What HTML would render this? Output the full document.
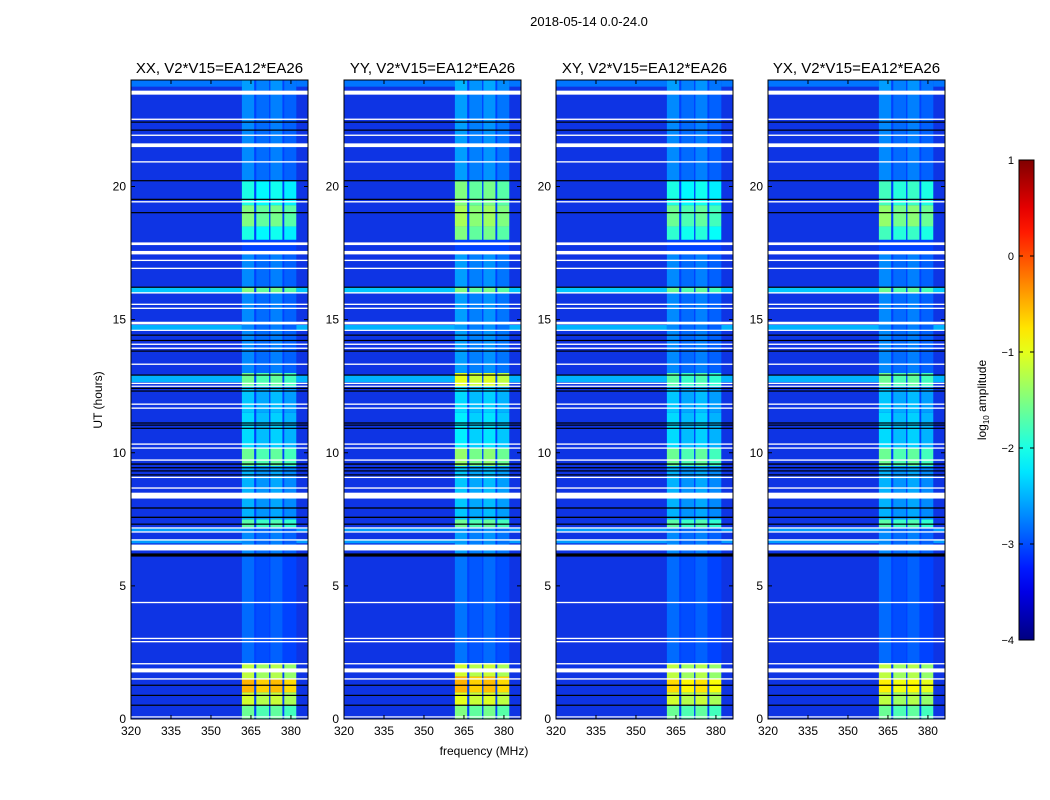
<!DOCTYPE html>
<html><head><meta charset="utf-8"><style>
body{margin:0;background:#fff;}
svg{display:block;font-family:"Liberation Sans",sans-serif;}
</style></head><body>
<svg id="chart" width="1050" height="800"></svg>
<script>
// ---- data ----
const panelTitles = ["XX, V2*V15=EA12*EA26","YY, V2*V15=EA12*EA26","XY, V2*V15=EA12*EA26","YX, V2*V15=EA12*EA26"];
const panelLeft = [131,344,556,768];
const yTicks = [0,5,10,15,20];
const xTicks = [320,335,350,365,380];
const cbTicks = [1,0,-1,-2,-3,-4];
const bands = [[361.6,366.2],[367,371.8],[372.3,376.8],[377.5,382]];
const bandOffset = [0,-0.15,-0.05,-0.2];
const gapLevel = -3.05;
const rfiXX = [[0,0.5,-1.6],[0.5,1.0,-1.1],[1.0,1.5,-0.5],[1.5,2.1,-1.2],[2.1,6.2,-2.85],[6.2,7.2,-2.7],[7.2,7.5,-1.7],[7.5,9.5,-2.5],[9.5,10.2,-1.6],[10.2,11.5,-2.3],[11.5,12.5,-2.4],[12.5,13.0,-1.6],[13,16,-2.7],[16,16.2,-1.5],[16.2,17.5,-2.7],[18,18.5,-2.0],[18.5,19.3,-1.5],[19.3,20.2,-2.0],[20.2,23.5,-2.7],[23.6,24,-2.6]];
const rfiYY = [[0,0.5,-1.5],[0.5,1.0,-1.0],[1.0,1.6,-0.5],[1.6,2.1,-1.1],[2.1,6.2,-2.8],[6.2,7.2,-2.6],[7.2,7.5,-1.6],[7.5,9.5,-2.4],[9.5,10.2,-1.4],[10.2,11.5,-2.2],[11.5,12.5,-2.3],[12.5,13.0,-1.0],[13,16,-2.6],[16,16.2,-1.5],[16.2,17.5,-2.6],[18,18.5,-1.5],[18.5,19.3,-1.3],[19.3,20.2,-1.5],[20.2,23.5,-2.6],[23.6,24,-2.5]];
const rfiXY = [[0,0.5,-1.6],[0.5,1.0,-1.1],[1.0,1.5,-0.7],[1.5,2.1,-1.2],[2.1,6.2,-2.85],[6.2,7.2,-2.7],[7.2,7.5,-1.7],[7.5,9.5,-2.5],[9.5,10.2,-1.6],[10.2,11.5,-2.3],[11.5,12.5,-2.4],[12.5,13.0,-1.7],[13,16,-2.7],[16,16.2,-1.6],[16.2,17.5,-2.7],[18,18.5,-1.9],[18.5,19.3,-1.6],[19.3,20.2,-2.0],[20.2,23.5,-2.7],[23.6,24,-2.6]];
const rfiYX = [[0,0.5,-1.6],[0.5,1.0,-1.2],[1.0,1.5,-0.8],[1.5,2.1,-1.2],[2.1,6.2,-2.85],[6.2,7.2,-2.7],[7.2,7.5,-1.7],[7.5,9.5,-2.5],[9.5,10.2,-1.6],[10.2,11.5,-2.3],[11.5,12.5,-2.4],[12.5,13.0,-1.6],[13,16,-2.7],[16,16.2,-1.6],[16.2,17.5,-2.7],[18,18.5,-1.8],[18.5,19.3,-1.4],[19.3,20.2,-1.8],[20.2,23.5,-2.7],[23.6,24,-2.6]];
const rfiPanels = [rfiXX,rfiYY,rfiXY,rfiYX];
const brightRows = [[16.0,16.2,-2.4],[12.65,12.9,-2.5],[14.6,14.8,-2.5],[6.6,6.75,-2.6],[7.05,7.15,-2.6],[23.75,24,-2.8]];
const whiteLines = [[23.45,23.6],[22.5,22.55],[21.9,21.95],[21.48,21.62],[20.9,20.95],[19.4,19.45],[17.8,17.9],[17.45,17.58],[17.2,17.25],[16.9,16.95],[15.98,16.03],[15.55,15.6],[15.4,15.45],[14.82,14.92],[14.58,14.62],[14.05,14.1],[13.9,13.95],[13.3,13.35],[12.58,12.63],[12.48,12.52],[11.8,11.85],[11.65,11.7],[10.3,10.35],[10.15,10.2],[9.7,9.75],[9.05,9.1],[8.65,8.7],[8.28,8.5],[7.15,7.2],[7.0,7.05],[6.7,6.75],[6.33,6.55],[4.35,4.4],[3.0,3.05],[2.88,2.93],[2.05,2.1],[1.75,1.9],[1.48,1.53],[0.06,0.1]];
const blackLines = [[22.4,22.44],[22.1,22.14],[20.2,20.24],[19.5,19.54],[19.0,19.04],[16.2,16.24],[14.4,14.44],[14.2,14.24],[13.8,13.84],[12.9,12.94],[12.4,12.44],[12.3,12.34],[11.1,11.14],[11.02,11.06],[10.9,10.94],[9.55,9.6],[9.42,9.46],[9.3,9.34],[9.15,9.19],[7.9,7.95],[7.55,7.6],[7.3,7.34],[6.1,6.22],[1.25,1.29],[0.87,0.91],[0.5,0.54]];
// ---- scales ----
const plotTop=80, plotBottom=719, pw=177, xmin=320, xmax=386.4, ymin=0, ymax=24;
const sy = h => plotBottom - (h-ymin)/(ymax-ymin)*(plotBottom-plotTop);
const sx = (p,f) => panelLeft[p] + (f-xmin)/(xmax-xmin)*pw;
function jet(v){const x=Math.max(0,Math.min(1,(v+4)/5));const c=t=>Math.round(255*Math.max(0,Math.min(1,1.5-Math.abs(t))));return `rgb(${c(4*x-3)},${c(4*x-2)},${c(4*x-1)})`;}
const NS="http://www.w3.org/2000/svg";
const svgRoot=document.getElementById('chart');
function el(tag,attrs,parent){const e=document.createElementNS(NS,tag);for(const k in attrs)e.setAttribute(k,attrs[k]);(parent||svgRoot).appendChild(e);return e;}
function txt(s,attrs,parent){const e=el('text',attrs,parent);e.textContent=s;return e;}

const figTitle=txt("2018-05-14 0.0-24.0",{x:589,y:26,'text-anchor':'middle','font-size':13});



for(let p=0;p<4;p++){
  const g=el('g',{});
  
  
  const L=panelLeft[p];
  const bg=el('rect',{x:L,y:plotTop,width:pw,height:plotBottom-plotTop,fill:'rgb(14,52,228)'},g);
  
  
  brightRows.forEach(r=>{const e=el('rect',{x:L,y:sy(r[1]),width:pw,height:sy(r[0])-sy(r[1]),fill:jet(r[2])},g);
    
    });
  const gx0=sx(p,bands[0][0]), gx1=sx(p,bands[3][1]);
  const gr=el('rect',{x:gx0,y:plotTop,width:gx1-gx0,height:plotBottom-plotTop,fill:jet(gapLevel)},g);
  
  
  rfiPanels[p].forEach(s=>{
    bands.forEach((b,bi)=>{
      const e=el('rect',{x:sx(p,b[0]),y:sy(s[1]),width:sx(p,b[1])-sx(p,b[0]),height:sy(s[0])-sy(s[1]),fill:jet(s[2]+bandOffset[bi])},g);
      
      
    });
  });
  whiteLines.forEach(r=>{const e=el('rect',{x:L,y:sy(r[1]),width:pw,height:Math.max(1.2,sy(r[0])-sy(r[1])),fill:'#fff'},g);
    
    });
  blackLines.forEach(r=>{const e=el('rect',{x:L,y:sy(r[1]),width:pw,height:Math.max(1.2,sy(r[0])-sy(r[1])),fill:'#000'},g);
    
    });
  const fr=el('rect',{x:L,y:plotTop,width:pw,height:plotBottom-plotTop,fill:'none',stroke:'#000','stroke-width':1},g);
  
  
  const t=txt(panelTitles[p],{x:L+pw/2,y:73,'text-anchor':'middle','font-size':15},g);
  
  
  yTicks.forEach(v=>{
    const y=sy(v);
    el('line',{x1:L,x2:L+4,y1:y,y2:y,stroke:'#000'},g);
    el('line',{x1:L+pw-4,x2:L+pw,y1:y,y2:y,stroke:'#000'},g);
    const tl=txt(String(v),{x:L-5,y:y+4,'text-anchor':'end','font-size':12},g);
    
    
  });
  xTicks.forEach(v=>{
    const x=sx(p,v);
    el('line',{x1:x,x2:x,y1:plotBottom,y2:plotBottom-4,stroke:'#000'},g);
    el('line',{x1:x,x2:x,y1:plotTop,y2:plotTop+4,stroke:'#000'},g);
    const tl=txt(String(v),{x:x,y:plotBottom+16,'text-anchor':'middle','font-size':12},g);
    
    
  });
}
const yl=txt("UT (hours)",{x:102,y:400,'text-anchor':'middle','font-size':12,transform:'rotate(-90 102 400)'});


const xl=txt("frequency (MHz)",{x:484,y:755,'text-anchor':'middle','font-size':12});


// colorbar
const cb=el('g',{});


const defsEl=el('defs',{});
const lg=el('linearGradient',{id:'jetg',x1:0,y1:1,x2:0,y2:0},defsEl);
for(let i=0;i<=20;i++){el('stop',{offset:i/20,'stop-color':jet(-4+5*i/20)},lg);}
const cbTop=160,cbBot=640,cbX=1019,cbW=15;
el('rect',{x:cbX,y:cbTop,width:cbW,height:cbBot-cbTop,fill:'url(#jetg)',stroke:'#000'},cb);
cbTicks.forEach(v=>{
  const y=cbBot-(v+4)/5*(cbBot-cbTop);
  el('line',{x1:cbX,x2:cbX+4,y1:y,y2:y,stroke:'#000'},cb);
  el('line',{x1:cbX+cbW-4,x2:cbX+cbW,y1:y,y2:y,stroke:'#000'},cb);
  const t=txt(v<0?'\u2212'+(-v):String(v),{x:cbX-5,y:y+4,'text-anchor':'end','font-size':11},cb);
  
  
});
const cl=el('text',{x:986,y:400,'text-anchor':'middle','font-size':12,transform:'rotate(-90 986 400)'});
cl.innerHTML='log<tspan font-size="8" dy="3">10</tspan><tspan dy="-3"> amplitude</tspan>';


</script>
</body></html>
